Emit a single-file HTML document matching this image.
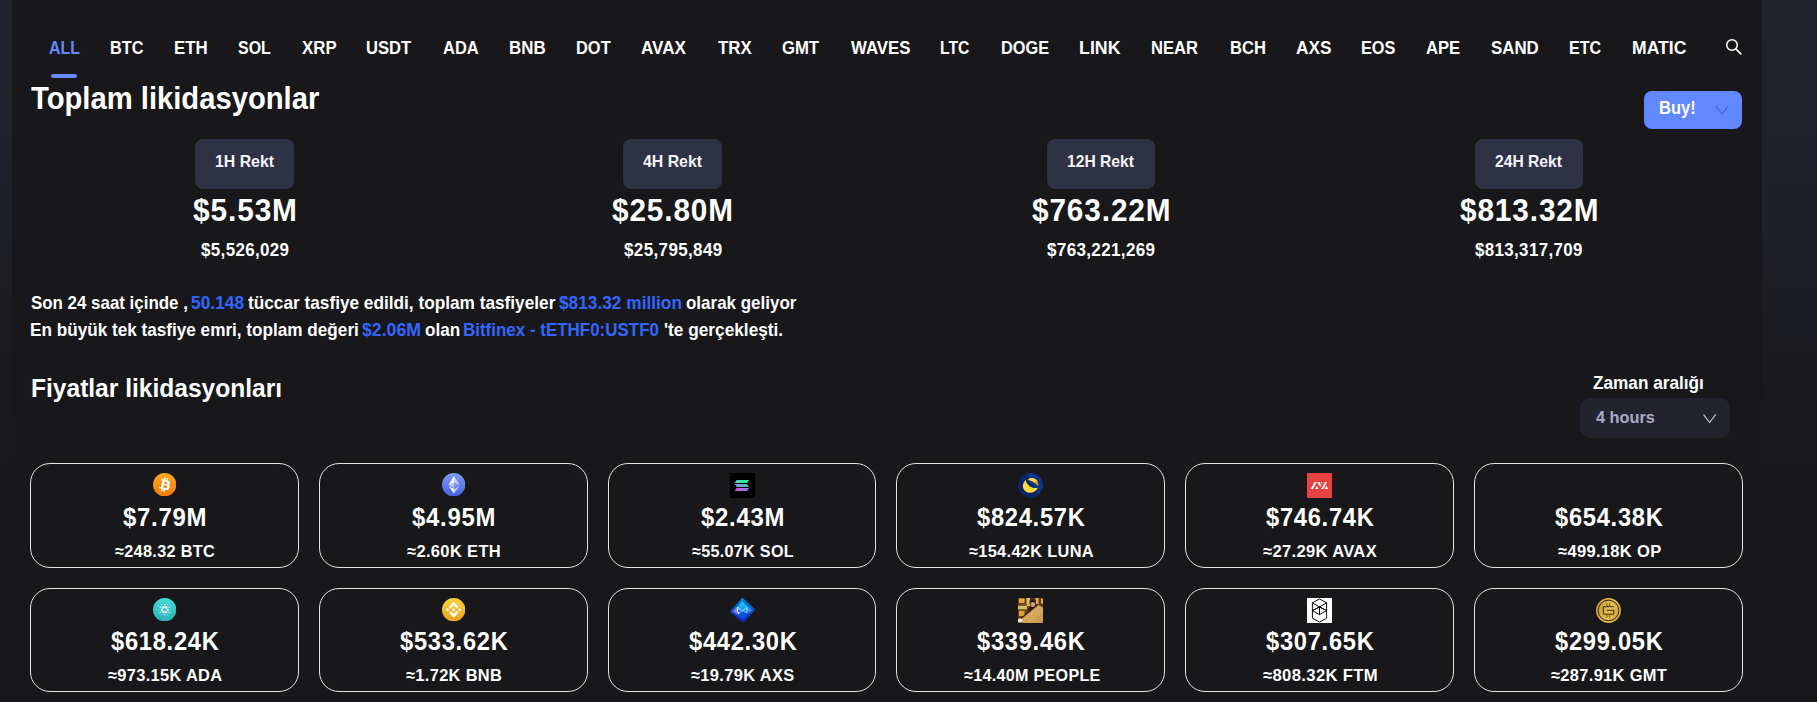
<!DOCTYPE html>
<html lang="tr">
<head>
<meta charset="utf-8">
<title>Toplam likidasyonlar</title>
<style>
html,body{margin:0;padding:0;}
body{width:1817px;height:702px;overflow:hidden;background:#18181b;position:relative;font-family:"Liberation Sans",sans-serif;font-weight:bold;}
.strip{position:absolute;top:0;height:702px;background:linear-gradient(to bottom,#21242e 0px,#20232c 120px,#1b1c21 330px,#18181b 460px);}
.t{position:absolute;white-space:nowrap;transform-origin:0 0;font-weight:bold;display:block;}
.box{position:absolute;box-sizing:border-box;}
.rekt{background:#2f3144;border-radius:8px;height:50px;top:139px;}
.card{border:1px solid #e3e3e3;border-radius:20px;width:269px;}
.ic{position:absolute;}
svg{display:block;}
</style>
</head>
<body>
<div class="strip" style="left:0;width:12px"></div>
<div class="strip" style="left:1762px;width:55px"></div>
<div class="box" style="left:51px;top:74px;width:26px;height:4px;border-radius:2px;background:#6a8bfa"></div>
<svg class="ic" style="left:1724px;top:37px" width="20" height="20" viewBox="0 0 20 20"><circle cx="8" cy="8" r="5.3" fill="none" stroke="#fff" stroke-width="1.6"/><path d="M12 12L16.8 16.8" stroke="#fff" stroke-width="1.7" stroke-linecap="round"/></svg>
<div class="box" style="left:1644px;top:91px;width:98px;height:38px;border-radius:8px;background:#6188fc"></div>
<svg class="ic" style="left:1714px;top:104px" width="16" height="12" viewBox="0 0 16 12"><path d="M2 2.5L8 10L14 2.5" fill="none" stroke="#456ad9" stroke-width="1.3" stroke-linecap="round" stroke-linejoin="round"/></svg>
<div class="box rekt" style="left:195px;width:99px"></div>
<div class="box rekt" style="left:623px;width:99px"></div>
<div class="box rekt" style="left:1047px;width:108px"></div>
<div class="box rekt" style="left:1475px;width:108px"></div>
<div class="box" style="left:1580px;top:398px;width:150px;height:40px;border-radius:10px;background:#22232f"></div>
<svg class="ic" style="left:1702px;top:411px" width="16" height="14" viewBox="0 0 16 14"><path d="M1.8 3.8L7.6 11.5L13.4 3.8" fill="none" stroke="#c9cad6" stroke-width="1.2" stroke-linecap="round" stroke-linejoin="round"/></svg>
<div class="box card" style="left:30px;top:463px;width:269px;height:105px"></div>
<div class="box card" style="left:319px;top:463px;width:269px;height:105px"></div>
<div class="box card" style="left:608px;top:463px;width:268px;height:105px"></div>
<div class="box card" style="left:896px;top:463px;width:269px;height:105px"></div>
<div class="box card" style="left:1185px;top:463px;width:269px;height:105px"></div>
<div class="box card" style="left:1474px;top:463px;width:269px;height:105px"></div>
<div class="box card" style="left:30px;top:588px;width:269px;height:104px"></div>
<div class="box card" style="left:319px;top:588px;width:269px;height:104px"></div>
<div class="box card" style="left:608px;top:588px;width:268px;height:104px"></div>
<div class="box card" style="left:896px;top:588px;width:269px;height:104px"></div>
<div class="box card" style="left:1185px;top:588px;width:269px;height:104px"></div>
<div class="box card" style="left:1474px;top:588px;width:269px;height:104px"></div>
<svg class="ic" style="left:152.8px;top:472.8px" width="23.4" height="23.4" viewBox="0 0 32 32"><defs><linearGradient id="gb" x1="0" y1="0" x2="0" y2="1"><stop offset="0" stop-color="#f9aa20"/><stop offset="1" stop-color="#f3790f"/></linearGradient></defs><circle cx="16" cy="16" r="16" fill="url(#gb)"/><path fill="#fff" d="M23.189 14.02c.314-2.096-1.283-3.223-3.465-3.975l.708-2.84-1.728-.43-.69 2.765c-.454-.114-.92-.22-1.385-.326l.695-2.783L15.596 6l-.708 2.839c-.376-.086-.746-.17-1.104-.26l.002-.009-2.384-.595-.46 1.846s1.283.294 1.256.312c.7.175.826.638.805 1.006l-.806 3.235c.048.012.11.03.18.057l-.183-.045-1.13 4.532c-.086.212-.303.531-.793.41.018.025-1.256-.313-1.256-.313l-.858 1.978 2.25.561c.418.105.828.215 1.231.318l-.715 2.872 1.727.43.708-2.84c.472.127.93.245 1.378.357l-.706 2.828 1.728.43.715-2.866c2.948.558 5.164.333 6.097-2.333.752-2.146-.037-3.385-1.588-4.192 1.13-.26 1.98-1.003 2.207-2.538zm-3.95 5.538c-.533 2.147-4.148.986-5.32.695l.95-3.805c1.172.293 4.929.872 4.37 3.11zm.535-5.569c-.487 1.953-3.495.96-4.47.717l.86-3.45c.975.243 4.118.696 3.61 2.733z"/></svg>
<svg class="ic" style="left:441.9px;top:472.8px" width="23.4" height="23.4" viewBox="0 0 32 32"><defs><linearGradient id="ge" x1="0" y1="0" x2="0" y2="1"><stop offset="0" stop-color="#7d9df4"/><stop offset="1" stop-color="#4a60e4"/></linearGradient></defs><circle cx="16" cy="16" r="16" fill="url(#ge)"/><g fill="#fff"><path fill-opacity=".602" d="M16.498 4v8.87l7.497 3.35z"/><path d="M16.498 4L9 16.22l7.498-3.35z"/><path fill-opacity=".602" d="M16.498 21.968v6.027L24 17.616z"/><path d="M16.498 27.995v-6.028L9 17.616z"/><path fill-opacity=".2" d="M16.498 20.573l7.497-4.353-7.497-3.348z"/><path fill-opacity=".602" d="M9 16.22l7.498 4.353v-7.701z"/></g></svg>
<svg class="ic" style="left:730px;top:473px" width="25" height="25" viewBox="0 0 25 25"><defs><linearGradient id="gs1" x1="0" y1="0" x2="1" y2="0"><stop offset="0" stop-color="#4fd0b4"/><stop offset="1" stop-color="#1cf79b"/></linearGradient><linearGradient id="gs2" x1="0" y1="0" x2="1" y2="0"><stop offset="0" stop-color="#8f8bdc"/><stop offset="1" stop-color="#58b6c4"/></linearGradient><linearGradient id="gs3" x1="0" y1="0" x2="1" y2="0"><stop offset="0" stop-color="#cf4ff3"/><stop offset="1" stop-color="#8d80e0"/></linearGradient></defs><rect width="25" height="25" fill="#000"/><path d="M6.6 6.9H19.2L17 9.9H4.8z" fill="url(#gs1)"/><path d="M4.8 11.1H17L19.2 14H6.6z" fill="url(#gs2)"/><path d="M6.6 15.1H19.2L17 18.1H4.8z" fill="url(#gs3)"/></svg>
<svg class="ic" style="left:1018px;top:473px" width="25" height="25" viewBox="0 0 25 25"><circle cx="12.5" cy="12.5" r="12.5" fill="#0a2563"/><path d="M10 0.3A12.5 12.5 0 0 1 24.9 14L20.5 21.5 9.8 6.5z" fill="#0d3f9f" opacity=".65"/><path d="M7.800 6.900C4.200 9.800 3.900 15 7.200 18 10.800 21.200 17 20.400 20 14.800 16 15.600 12.800 14.400 10.600 12.200 9 10.600 8 8.800 7.800 6.900z" fill="#ffd83d"/><path d="M9.800 6.500C11.500 4.600 15 4.200 17.700 6.200 19.600 7.700 20.600 10 20.100 13.100 18.800 11 17 9.600 14.300 8.500 12.600 7.800 11 7.400 9.800 6.500z" fill="#ffd83d"/><path d="M16.800 8.800C18.300 9.600 19.400 10.800 20.100 13.100 20.500 11.400 20.200 9.900 19.400 8.600z" fill="#ff6f03"/></svg>
<svg class="ic" style="left:1307px;top:473px" width="25" height="25" viewBox="0 0 25 25"><rect width="25" height="25" fill="#e84142"/><g fill="#fff"><path d="M3.800 15.900L7.600 9.100H9.800L6 15.900z"/><path d="M9.900 12.800L11.500 15.900H8.200z"/><path d="M10.300 9.100H12.300L14.100 12.400 13.100 14.200z"/><path d="M13.600 9.100H15.500L14.500 10.900z" /><path d="M14.300 15.900L18 9.100H20L16.400 15.900z"/><path d="M19.400 12.800L21.200 15.900H17.700z"/></g></svg>
<svg class="ic" style="left:152.8px;top:597.8px" width="23.4" height="23.4" viewBox="0 0 24 24"><defs><linearGradient id="ga" x1="0" y1="0" x2="0" y2="1"><stop offset="0" stop-color="#40dcd8"/><stop offset="1" stop-color="#29b2b5"/></linearGradient></defs><circle cx="12" cy="12" r="12" fill="url(#ga)"/><circle cx="14.90" cy="12.00" r="1.25" fill="#fff" fill-opacity="1"/><circle cx="13.45" cy="14.51" r="1.25" fill="#fff" fill-opacity="1"/><circle cx="10.55" cy="14.51" r="1.25" fill="#fff" fill-opacity="1"/><circle cx="9.10" cy="12.00" r="1.25" fill="#fff" fill-opacity="1"/><circle cx="10.55" cy="9.49" r="1.25" fill="#fff" fill-opacity="1"/><circle cx="13.45" cy="9.49" r="1.25" fill="#fff" fill-opacity="1"/><circle cx="16.50" cy="14.60" r="0.75" fill="#fff" fill-opacity="0.9"/><circle cx="12.00" cy="17.20" r="0.75" fill="#fff" fill-opacity="0.9"/><circle cx="7.50" cy="14.60" r="0.75" fill="#fff" fill-opacity="0.9"/><circle cx="7.50" cy="9.40" r="0.75" fill="#fff" fill-opacity="0.9"/><circle cx="12.00" cy="6.80" r="0.75" fill="#fff" fill-opacity="0.9"/><circle cx="16.50" cy="9.40" r="0.75" fill="#fff" fill-opacity="0.9"/><circle cx="18.20" cy="12.00" r="0.55" fill="#fff" fill-opacity="0.75"/><circle cx="15.10" cy="17.37" r="0.55" fill="#fff" fill-opacity="0.75"/><circle cx="8.90" cy="17.37" r="0.55" fill="#fff" fill-opacity="0.75"/><circle cx="5.80" cy="12.00" r="0.55" fill="#fff" fill-opacity="0.75"/><circle cx="8.90" cy="6.63" r="0.55" fill="#fff" fill-opacity="0.75"/><circle cx="15.10" cy="6.63" r="0.55" fill="#fff" fill-opacity="0.75"/><circle cx="18.50" cy="15.75" r="0.5" fill="#fff" fill-opacity="0.5"/><circle cx="12.00" cy="19.50" r="0.5" fill="#fff" fill-opacity="0.5"/><circle cx="5.50" cy="15.75" r="0.5" fill="#fff" fill-opacity="0.5"/><circle cx="5.50" cy="8.25" r="0.5" fill="#fff" fill-opacity="0.5"/><circle cx="12.00" cy="4.50" r="0.5" fill="#fff" fill-opacity="0.5"/><circle cx="18.50" cy="8.25" r="0.5" fill="#fff" fill-opacity="0.5"/><circle cx="20.30" cy="12.00" r="0.4" fill="#fff" fill-opacity="0.3"/><circle cx="16.15" cy="19.19" r="0.4" fill="#fff" fill-opacity="0.3"/><circle cx="7.85" cy="19.19" r="0.4" fill="#fff" fill-opacity="0.3"/><circle cx="3.70" cy="12.00" r="0.4" fill="#fff" fill-opacity="0.3"/><circle cx="7.85" cy="4.81" r="0.4" fill="#fff" fill-opacity="0.3"/><circle cx="16.15" cy="4.81" r="0.4" fill="#fff" fill-opacity="0.3"/></svg>
<svg class="ic" style="left:441.9px;top:597.8px" width="23.4" height="23.4" viewBox="0 0 32 32"><defs><linearGradient id="gn" x1="0" y1="0" x2="0" y2="1"><stop offset="0" stop-color="#f9d53c"/><stop offset="1" stop-color="#ef9f1e"/></linearGradient></defs><circle cx="16" cy="16" r="16" fill="url(#gn)"/><path fill="#fff" transform="translate(16 16) scale(1.08) translate(-16 -16)" d="M12.116 14.404L16 10.520l3.886 3.886 2.260-2.260L16 6l-6.144 6.144 2.260 2.260zM6 16l2.260-2.260L10.520 16l-2.260 2.260L6 16zm6.116 1.596L16 21.480l3.886-3.886 2.260 2.259L16 26l-6.144-6.144-.003-.003 2.263-2.257zM21.480 16l2.260-2.260L26 16l-2.260 2.260L21.480 16zm-3.188-.002h.002V16L16 18.294l-2.291-2.290-.004-.004.004-.003.401-.402.195-.195L16 13.706l2.293 2.293z"/></svg>
<svg class="ic" style="left:730px;top:598px" width="25" height="25" viewBox="0 0 25 25"><defs><linearGradient id="gx" x1="0" y1="0" x2="0" y2="1"><stop offset="0" stop-color="#0a7fd6"/><stop offset="1" stop-color="#0a1ea8"/></linearGradient><linearGradient id="gx2" x1="0" y1="0" x2="0" y2="1"><stop offset="0" stop-color="#16d6f6"/><stop offset=".5" stop-color="#1f8df0"/><stop offset=".55" stop-color="#1253e6"/><stop offset="1" stop-color="#0c48e0"/></linearGradient></defs><path d="M11.900 .200Q12.500-.200 13.300 .500L24.400 10.600Q25.200 11.500 24.500 12.500L14.200 24.300Q13.300 25.200 12.300 24.500L.600 14.300Q-.300 13.400 .500 12.400z" fill="url(#gx)"/><path d="M12.200 3.200L21.800 12.100 13 22 3 13.300z" fill="url(#gx2)"/><path d="M3 13.300L6.500 9.300 7 16.800z" fill="#9a6cf0"/><path d="M21.800 12.100L18.600 15.800 19 9.500z" fill="#8a68e8" opacity=".8"/><path d="M7.800 9.500Q6.600 12.700 8.600 15.600" stroke="#fff" stroke-width="1.300" fill="none" stroke-linecap="round"/><path d="M8.600 10.500L16.800 14.800M16.600 10L9 15" stroke="#7fe6ff" stroke-width=".9" fill="none" opacity=".9"/><path d="M16.600 9.700Q17.600 12 16.800 14.600" stroke="#8ff" stroke-width="1" fill="none" stroke-linecap="round"/></svg>
<svg class="ic" style="left:1018px;top:598px" width="25" height="25" viewBox="0 0 25 25"><defs><linearGradient id="gp" x1="0" y1="0" x2="1" y2="1"><stop offset="0" stop-color="#b8873a"/><stop offset=".5" stop-color="#d2a758"/><stop offset="1" stop-color="#c79a45"/></linearGradient><clipPath id="cp"><rect width="25" height="25"/></clipPath></defs><g clip-path="url(#cp)"><rect width="25" height="25" fill="#6b3c14"/><rect x="1" y=".5" width="5.500" height="4.500" fill="#e8a838"/><rect x="8.500" y="0" width="3.500" height="8" fill="#e3c25a"/><rect x="17.500" y="0" width="3" height="6" fill="#dcb84e"/><rect x="23" y=".500" width="2" height="5" fill="#e6ac3c"/><rect x="0" y="6.200" width="9" height="1.800" fill="#7a5a2a"/><rect x="0" y="8" width="9" height="3.200" fill="#d9c266"/><rect x="0" y="11.200" width="9" height="1.300" fill="#8a6a30"/><rect x="1" y="13" width="5.500" height="5" fill="#e2a233"/><path d="M9.500 18L11 9.500 15 8 19 6.500 22 7 25 10V14z" fill="#2a160c"/><ellipse cx="14.800" cy="4.600" rx="3.300" ry="4" fill="#3a2014"/><ellipse cx="14.900" cy="6" rx="2.300" ry="3.100" fill="#c99a7c"/><path d="M12.600 3.500Q14.800 .800 17.200 3.500L17 4.600Q14.800 3.200 12.700 4.600z" fill="#24120a"/><path d="M4.500 25L3.500 20 20 6.500 25 9.500V25z" fill="url(#gp)"/><path d="M6 22L21 9M9 24.500L25 12" stroke="#e6cf86" stroke-width=".8" opacity=".6"/><path d="M3.500 20L20 6.500" stroke="#3a1f0c" stroke-width="1.100"/><ellipse cx="2" cy="22.500" rx="2.600" ry="1.900" fill="#f2f0ea"/><path d="M0 25Q1 22.500 3.800 24.800z" fill="#b07a2a"/></g></svg>
<svg class="ic" style="left:1307px;top:598px" width="25" height="25" viewBox="0 0 25 25"><rect width="25" height="25" fill="#fff"/><g fill="none" stroke="#000" stroke-width=".950" stroke-linejoin="round"><path d="M12.500 1L19.600 4.800V20.200L12.500 24 5.400 20.200V4.800z"/><path d="M5.400 4.800L12.500 9 19.600 4.800"/><path d="M5.400 12.600L12.500 9 19.600 12.600 12.500 16.600z"/><path d="M12.500 9V16.600"/><path d="M5.400 12.600L12.500 8.900M19.600 12.600L12.500 8.900"/></g></svg>
<svg class="ic" style="left:1596px;top:598px" width="25" height="25" viewBox="0 0 25 25"><defs><linearGradient id="gg" x1="0" y1="0.2" x2="1" y2="0.6"><stop offset="0" stop-color="#c39833"/><stop offset=".55" stop-color="#e3bd4d"/><stop offset="1" stop-color="#d3a93e"/></linearGradient></defs><circle cx="12.500" cy="12.500" r="12.500" fill="url(#gg)"/><circle cx="12.500" cy="12.500" r="10.300" fill="none" stroke="#21180a" stroke-width=".900"/><g fill="none" stroke="#2a1d0a" stroke-width=".900"><path d="M17.800 8.700H7.300V16.200H17.800V12.300H10.900"/><path d="M17.800 9.500"/></g><g stroke="#6e5218" stroke-width=".900"><path d="M10.900 5.200V8.400M13.600 5.200V8.400M10.900 16.500V19.800M13.600 16.500V19.800"/></g></svg>

<span class="t" style="left:48.60px;top:39.00px;font-size:18.75px;line-height:18.75px;color:#6288fa;letter-spacing:0.00px;transform:scaleX(0.8474)">ALL</span>
<span class="t" style="left:109.51px;top:39.00px;font-size:18.75px;line-height:18.75px;color:#ffffff;letter-spacing:0.00px;transform:scaleX(0.8703)">BTC</span>
<span class="t" style="left:173.67px;top:39.00px;font-size:18.75px;line-height:18.75px;color:#ffffff;letter-spacing:0.00px;transform:scaleX(0.9004)">ETH</span>
<span class="t" style="left:237.94px;top:39.00px;font-size:18.75px;line-height:18.75px;color:#ffffff;letter-spacing:0.00px;transform:scaleX(0.8496)">SOL</span>
<span class="t" style="left:301.75px;top:39.00px;font-size:18.75px;line-height:18.75px;color:#ffffff;letter-spacing:0.00px;transform:scaleX(0.8981)">XRP</span>
<span class="t" style="left:366.40px;top:39.00px;font-size:18.75px;line-height:18.75px;color:#ffffff;letter-spacing:0.00px;transform:scaleX(0.8851)">USDT</span>
<span class="t" style="left:442.59px;top:39.00px;font-size:18.75px;line-height:18.75px;color:#ffffff;letter-spacing:0.00px;transform:scaleX(0.8774)">ADA</span>
<span class="t" style="left:508.87px;top:39.00px;font-size:18.75px;line-height:18.75px;color:#ffffff;letter-spacing:0.00px;transform:scaleX(0.9009)">BNB</span>
<span class="t" style="left:575.90px;top:39.00px;font-size:18.75px;line-height:18.75px;color:#ffffff;letter-spacing:0.00px;transform:scaleX(0.8761)">DOT</span>
<span class="t" style="left:641.47px;top:39.00px;font-size:18.75px;line-height:18.75px;color:#ffffff;letter-spacing:0.00px;transform:scaleX(0.9121)">AVAX</span>
<span class="t" style="left:717.51px;top:39.00px;font-size:18.75px;line-height:18.75px;color:#ffffff;letter-spacing:0.00px;transform:scaleX(0.8970)">TRX</span>
<span class="t" style="left:781.52px;top:39.00px;font-size:18.75px;line-height:18.75px;color:#ffffff;letter-spacing:0.00px;transform:scaleX(0.8897)">GMT</span>
<span class="t" style="left:850.58px;top:39.00px;font-size:18.75px;line-height:18.75px;color:#ffffff;letter-spacing:0.00px;transform:scaleX(0.8951)">WAVES</span>
<span class="t" style="left:940.45px;top:39.00px;font-size:18.75px;line-height:18.75px;color:#ffffff;letter-spacing:0.00px;transform:scaleX(0.8381)">LTC</span>
<span class="t" style="left:1000.51px;top:39.00px;font-size:18.75px;line-height:18.75px;color:#ffffff;letter-spacing:0.00px;transform:scaleX(0.8717)">DOGE</span>
<span class="t" style="left:1079.21px;top:39.00px;font-size:18.75px;line-height:18.75px;color:#ffffff;letter-spacing:0.00px;transform:scaleX(0.9500)">LINK</span>
<span class="t" style="left:1151.49px;top:39.00px;font-size:18.75px;line-height:18.75px;color:#ffffff;letter-spacing:0.00px;transform:scaleX(0.8837)">NEAR</span>
<span class="t" style="left:1229.69px;top:39.00px;font-size:18.75px;line-height:18.75px;color:#ffffff;letter-spacing:0.00px;transform:scaleX(0.8844)">BCH</span>
<span class="t" style="left:1295.77px;top:39.00px;font-size:18.75px;line-height:18.75px;color:#ffffff;letter-spacing:0.00px;transform:scaleX(0.9182)">AXS</span>
<span class="t" style="left:1361.41px;top:39.00px;font-size:18.75px;line-height:18.75px;color:#ffffff;letter-spacing:0.00px;transform:scaleX(0.8694)">EOS</span>
<span class="t" style="left:1425.99px;top:39.00px;font-size:18.75px;line-height:18.75px;color:#ffffff;letter-spacing:0.00px;transform:scaleX(0.8861)">APE</span>
<span class="t" style="left:1491.01px;top:39.00px;font-size:18.75px;line-height:18.75px;color:#ffffff;letter-spacing:0.00px;transform:scaleX(0.8996)">SAND</span>
<span class="t" style="left:1569.02px;top:39.00px;font-size:18.75px;line-height:18.75px;color:#ffffff;letter-spacing:0.00px;transform:scaleX(0.8591)">ETC</span>
<span class="t" style="left:1632.12px;top:39.00px;font-size:18.75px;line-height:18.75px;color:#ffffff;letter-spacing:0.00px;transform:scaleX(0.9376)">MATIC</span>
<span class="t" style="left:30.97px;top:83.00px;font-size:30.52px;line-height:30.52px;color:#fff;letter-spacing:0.00px;transform:scaleX(0.9569)">Toplam likidasyonlar</span>
<span class="t" style="left:1658.50px;top:100.00px;font-size:17.44px;line-height:17.44px;color:#fff;letter-spacing:0.00px;transform:scaleX(0.9462)">Buy!</span>
<span class="t" style="left:215.30px;top:154.00px;font-size:16.86px;line-height:16.86px;color:#f4f4f8;letter-spacing:0.00px;transform:scaleX(0.9396)">1H Rekt</span>
<span class="t" style="left:643.26px;top:154.00px;font-size:16.86px;line-height:16.86px;color:#f4f4f8;letter-spacing:0.00px;transform:scaleX(0.9403)">4H Rekt</span>
<span class="t" style="left:1067.41px;top:154.00px;font-size:16.86px;line-height:16.86px;color:#f4f4f8;letter-spacing:0.00px;transform:scaleX(0.9282)">12H Rekt</span>
<span class="t" style="left:1495.46px;top:154.00px;font-size:16.86px;line-height:16.86px;color:#f4f4f8;letter-spacing:0.00px;transform:scaleX(0.9276)">24H Rekt</span>
<span class="t" style="left:192.91px;top:194.00px;font-size:31.98px;line-height:31.98px;color:#fff;letter-spacing:0.96px;transform:scaleX(0.9330)">$5.53M</span>
<span class="t" style="left:612.31px;top:194.00px;font-size:31.98px;line-height:31.98px;color:#fff;letter-spacing:0.96px;transform:scaleX(0.9292)">$25.80M</span>
<span class="t" style="left:1031.81px;top:194.00px;font-size:31.98px;line-height:31.98px;color:#fff;letter-spacing:0.96px;transform:scaleX(0.9304)">$763.22M</span>
<span class="t" style="left:1459.91px;top:194.00px;font-size:31.98px;line-height:31.98px;color:#fff;letter-spacing:0.96px;transform:scaleX(0.9304)">$813.32M</span>
<span class="t" style="left:200.68px;top:242.00px;font-size:17.44px;line-height:17.44px;color:#fff;letter-spacing:0.35px;transform:scaleX(0.9737)">$5,526,029</span>
<span class="t" style="left:623.68px;top:242.00px;font-size:17.44px;line-height:17.44px;color:#fff;letter-spacing:0.35px;transform:scaleX(0.9778)">$25,795,849</span>
<span class="t" style="left:1046.68px;top:242.00px;font-size:17.44px;line-height:17.44px;color:#fff;letter-spacing:0.35px;transform:scaleX(0.9776)">$763,221,269</span>
<span class="t" style="left:1475.28px;top:242.00px;font-size:17.44px;line-height:17.44px;color:#fff;letter-spacing:0.35px;transform:scaleX(0.9721)">$813,317,709</span>
<span class="t" style="left:30.51px;top:294.00px;font-size:18.02px;line-height:18.02px;color:#fff;letter-spacing:0.00px;transform:scaleX(0.9380)">Son 24 saat içinde ,</span>
<span class="t" style="left:190.77px;top:294.00px;font-size:18.02px;line-height:18.02px;color:#3366ff;letter-spacing:0.00px;transform:scaleX(0.9645)">50.148</span>
<span class="t" style="left:247.69px;top:294.00px;font-size:18.02px;line-height:18.02px;color:#fff;letter-spacing:0.00px;transform:scaleX(0.9563)">tüccar tasfiye edildi, toplam tasfiyeler</span>
<span class="t" style="left:559.47px;top:294.00px;font-size:18.02px;line-height:18.02px;color:#3366ff;letter-spacing:0.00px;transform:scaleX(0.9592)">$813.32 million</span>
<span class="t" style="left:686.24px;top:294.00px;font-size:18.02px;line-height:18.02px;color:#fff;letter-spacing:0.00px;transform:scaleX(0.9421)">olarak geliyor</span>
<span class="t" style="left:29.85px;top:321.00px;font-size:18.02px;line-height:18.02px;color:#fff;letter-spacing:0.00px;transform:scaleX(0.9520)">En büyük tek tasfiye emri, toplam değeri</span>
<span class="t" style="left:361.87px;top:321.00px;font-size:18.02px;line-height:18.02px;color:#3366ff;letter-spacing:0.00px;transform:scaleX(0.9817)">$2.06M</span>
<span class="t" style="left:424.73px;top:321.00px;font-size:18.02px;line-height:18.02px;color:#fff;letter-spacing:0.00px;transform:scaleX(0.9509)">olan</span>
<span class="t" style="left:463.47px;top:321.00px;font-size:18.02px;line-height:18.02px;color:#3366ff;letter-spacing:0.00px;transform:scaleX(0.9412)">Bitfinex - tETHF0:USTF0</span>
<span class="t" style="left:663.98px;top:321.00px;font-size:18.02px;line-height:18.02px;color:#fff;letter-spacing:0.00px;transform:scaleX(0.9574)">&#x27;te gerçekleşti.</span>
<span class="t" style="left:30.56px;top:376.00px;font-size:25.73px;line-height:25.73px;color:#fff;letter-spacing:0.00px;transform:scaleX(0.9546)">Fiyatlar likidasyonları</span>
<span class="t" style="left:1592.59px;top:375.00px;font-size:17.59px;line-height:17.59px;color:#fff;letter-spacing:0.00px;transform:scaleX(0.9782)">Zaman aralığı</span>
<span class="t" style="left:1595.65px;top:409.00px;font-size:17.15px;line-height:17.15px;color:#a9abc6;letter-spacing:0.00px;transform:scaleX(0.9511)">4 hours</span>
<span class="t" style="left:123.29px;top:505.00px;font-size:25.58px;line-height:25.58px;color:#fff;letter-spacing:0.77px;transform:scaleX(0.9366)">$7.79M</span>
<span class="t" style="left:115.31px;top:543.00px;font-size:17.15px;line-height:17.15px;color:#fff;letter-spacing:0.34px;transform:scaleX(0.9484)">≈248.32 BTC</span>
<span class="t" style="left:412.19px;top:505.00px;font-size:25.58px;line-height:25.58px;color:#fff;letter-spacing:0.77px;transform:scaleX(0.9343)">$4.95M</span>
<span class="t" style="left:407.45px;top:543.00px;font-size:17.15px;line-height:17.15px;color:#fff;letter-spacing:0.34px;transform:scaleX(0.9643)">≈2.60K ETH</span>
<span class="t" style="left:700.99px;top:505.00px;font-size:25.58px;line-height:25.58px;color:#fff;letter-spacing:0.77px;transform:scaleX(0.9343)">$2.43M</span>
<span class="t" style="left:692.01px;top:543.00px;font-size:17.15px;line-height:17.15px;color:#fff;letter-spacing:0.34px;transform:scaleX(0.9405)">≈55.07K SOL</span>
<span class="t" style="left:977.46px;top:505.00px;font-size:25.58px;line-height:25.58px;color:#fff;letter-spacing:0.77px;transform:scaleX(0.9267)">$824.57K</span>
<span class="t" style="left:969.31px;top:543.00px;font-size:17.15px;line-height:17.15px;color:#fff;letter-spacing:0.34px;transform:scaleX(0.9533)">≈154.42K LUNA</span>
<span class="t" style="left:1266.26px;top:505.00px;font-size:25.58px;line-height:25.58px;color:#fff;letter-spacing:0.77px;transform:scaleX(0.9267)">$746.74K</span>
<span class="t" style="left:1263.10px;top:543.00px;font-size:17.15px;line-height:17.15px;color:#fff;letter-spacing:0.34px;transform:scaleX(0.9665)">≈27.29K AVAX</span>
<span class="t" style="left:1555.06px;top:505.00px;font-size:25.58px;line-height:25.58px;color:#fff;letter-spacing:0.77px;transform:scaleX(0.9267)">$654.38K</span>
<span class="t" style="left:1557.65px;top:543.00px;font-size:17.15px;line-height:17.15px;color:#fff;letter-spacing:0.34px;transform:scaleX(0.9634)">≈499.18K OP</span>
<span class="t" style="left:111.06px;top:629.00px;font-size:25.58px;line-height:25.58px;color:#fff;letter-spacing:0.77px;transform:scaleX(0.9267)">$618.24K</span>
<span class="t" style="left:107.86px;top:667.00px;font-size:17.15px;line-height:17.15px;color:#fff;letter-spacing:0.34px;transform:scaleX(0.9568)">≈973.15K ADA</span>
<span class="t" style="left:399.86px;top:629.00px;font-size:25.58px;line-height:25.58px;color:#fff;letter-spacing:0.77px;transform:scaleX(0.9267)">$533.62K</span>
<span class="t" style="left:406.20px;top:667.00px;font-size:17.15px;line-height:17.15px;color:#fff;letter-spacing:0.34px;transform:scaleX(0.9581)">≈1.72K BNB</span>
<span class="t" style="left:688.66px;top:629.00px;font-size:25.58px;line-height:25.58px;color:#fff;letter-spacing:0.77px;transform:scaleX(0.9267)">$442.30K</span>
<span class="t" style="left:691.00px;top:667.00px;font-size:17.15px;line-height:17.15px;color:#fff;letter-spacing:0.34px;transform:scaleX(0.9603)">≈19.79K AXS</span>
<span class="t" style="left:977.46px;top:629.00px;font-size:25.58px;line-height:25.58px;color:#fff;letter-spacing:0.77px;transform:scaleX(0.9267)">$339.46K</span>
<span class="t" style="left:963.51px;top:667.00px;font-size:17.15px;line-height:17.15px;color:#fff;letter-spacing:0.34px;transform:scaleX(0.9384)">≈14.40M PEOPLE</span>
<span class="t" style="left:1266.26px;top:629.00px;font-size:25.58px;line-height:25.58px;color:#fff;letter-spacing:0.77px;transform:scaleX(0.9267)">$307.65K</span>
<span class="t" style="left:1263.35px;top:667.00px;font-size:17.15px;line-height:17.15px;color:#fff;letter-spacing:0.34px;transform:scaleX(0.9731)">≈808.32K FTM</span>
<span class="t" style="left:1555.06px;top:629.00px;font-size:25.58px;line-height:25.58px;color:#fff;letter-spacing:0.77px;transform:scaleX(0.9267)">$299.05K</span>
<span class="t" style="left:1551.15px;top:667.00px;font-size:17.15px;line-height:17.15px;color:#fff;letter-spacing:0.34px;transform:scaleX(0.9588)">≈287.91K GMT</span>
</body>
</html>
